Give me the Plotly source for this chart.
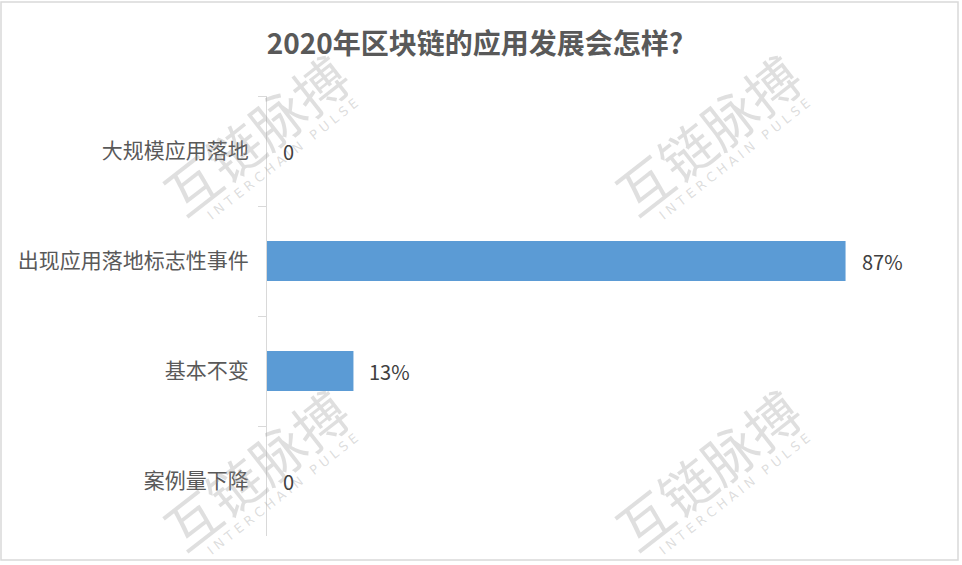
import plotly.graph_objects as go

categories = ["大规模应用落地", "出现应用落地标志性事件", "基本不变", "案例量下降"]
values = [0, 87, 13, 0]
value_labels = ["0", "87%", "13%", "0"]
title_text = "2020年区块链的应用发展会怎样?"
wm_cn = "互链脉搏"
wm_en = "I N T E R C H A I N   P U L S E"

W, H = 962, 565
L, R, T, B = 267, 30, 96, 29
PW, PH = W - L - R, H - T - B

def px_x(px):
    return (px - L) / PW

def px_y(py):
    return 1 - (py - T) / PH

FONT = "Noto Sans CJK SC, Microsoft YaHei, sans-serif"

fig = go.Figure()
fig.add_trace(go.Bar(
    y=categories, x=values, orientation="h",
    marker=dict(color="#5B9BD5", line=dict(width=0)),
    hoverinfo="skip",
))

annotations = []

# watermarks
wm_centers = [(255, 133), (707, 133), (255, 468), (707, 468)]
for cx, cy in wm_centers:
    annotations.append(dict(
        x=px_x(cx), y=px_y(cy), xref="paper", yref="paper", text=wm_cn,
        showarrow=False, textangle=-38, xanchor="center", yanchor="middle",
        font=dict(family=FONT, size=54, color="rgba(150,150,150,0.3)"),
    ))
    annotations.append(dict(
        x=px_x(cx + 27), y=px_y(cy + 26), xref="paper", yref="paper", text=wm_en,
        showarrow=False, textangle=-38, xanchor="center", yanchor="middle",
        font=dict(family="DejaVu Sans, sans-serif", size=13, color="rgba(150,150,150,0.32)"),
    ))

for c, v, t in zip(categories, values, value_labels):
    annotations.append(dict(
        x=v, y=c, xref="x", yref="y", text=t, showarrow=False,
        xanchor="left", yanchor="middle", xshift=14,
        font=dict(family=FONT, size=20, color="#404040"),
    ))

shapes = [dict(
    type="rect", xref="paper", yref="paper",
    x0=px_x(1), x1=px_x(958), y0=px_y(2), y1=px_y(560),
    line=dict(color="#d9d9d9", width=1.5), fillcolor="rgba(0,0,0,0)", layer="below",
)]

fig.update_layout(
    width=W, height=H,
    margin=dict(l=L, r=R, t=T, b=B, pad=0),
    paper_bgcolor="white", plot_bgcolor="white",
    title=dict(text="<b>" + title_text + "</b>", x=475 / W, xanchor="center",
               y=1 - 44 / H, yanchor="middle", xref="container", yref="container",
               font=dict(family=FONT, size=28, color="#595959")),
    bargap=0.636,
    showlegend=False,
    annotations=annotations,
    shapes=shapes,
    font=dict(family=FONT),
)
fig.update_xaxes(range=[0, 100], visible=False, fixedrange=True)
fig.update_yaxes(
    categoryorder="array", categoryarray=categories, autorange="reversed",
    showline=True, linecolor="#d9d9d9", linewidth=1.3,
    ticks="outside", ticklen=8, tickcolor="#d9d9d9", tickwidth=1.3,
    tickson="boundaries", showgrid=False,
    tickfont=dict(family=FONT, size=21, color="#595959"),
    ticklabelstandoff=13,
)

fig.write_html("out.html", config={"displayModeBar": False},
               post_script="document.body.style.margin='0';")
